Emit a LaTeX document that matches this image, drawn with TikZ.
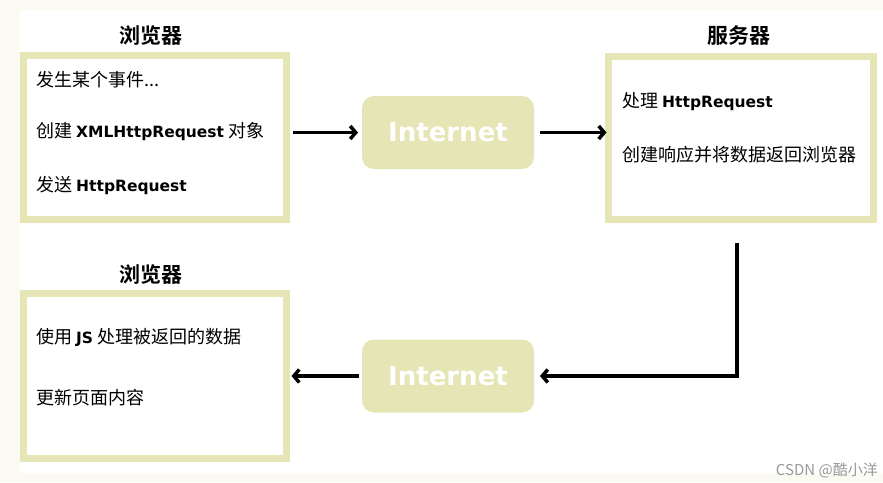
\documentclass[tikz,border=0pt]{standalone}
\usepackage{fontspec}
\usetikzlibrary{arrows.meta}
\setmainfont{DejaVu Sans}
\newfontfamily\cjk{Noto Sans CJK SC}[BoldFont={Noto Sans CJK SC Bold}]
\definecolor{khaki}{RGB}{229,229,181}
\definecolor{cream}{RGB}{251,251,243}
\newcommand{\en}[1]{{\normalfont\bfseries\fontsize{15.5}{18}\selectfont #1}}

\begin{document}
\begin{tikzpicture}[x=1pt,y=-1pt,
    box/.style={draw=khaki,line width=7pt,fill=white,inner sep=0pt,outer sep=0pt},
    inet/.style={fill=khaki,rounded corners=12pt,minimum width=172pt,minimum height=73pt,
      outer sep=0pt,text=white,font=\bfseries\fontsize{26}{30}\selectfont},
    title/.style={font=\cjk\bfseries\fontsize{21}{24}\selectfont},
    txt/.style={anchor=west,inner sep=0pt,font=\cjk\fontsize{18}{21}\selectfont},
    conn/.style={line width=3.5pt,-{Straight Barb[length=5.5pt,width=13pt]}}]
  \useasboundingbox (0,0) rectangle (883,482);
  \fill[cream] (0,0) rectangle (883,482);
  \fill[white] (20,10) rectangle (883,473);

  % browser (top)
  \node[title] (t1) at (151,36) {浏览器};
  \node[box,minimum width=263pt,minimum height=164pt] (b1) at (155,137.5) {};
  \node[txt] (b1a) at (36,80) {发生某个事件...};
  \node[txt] (b1b) at (36,132) {创建 \en{XMLHttpRequest} 对象};
  \node[txt] (b1c) at (36,186) {发送 \en{HttpRequest}};

  % internet
  \node[inet] (i1) at (448,132.5) {Internet};
  \node[inet] (i2) at (448,376) {Internet};

  % server
  \node[title] (t2) at (739,36) {服务器};
  \node[box,minimum width=265pt,minimum height=163pt] (srv) at (741,138) {};
  \node[txt] (sa) at (622,102) {处理 \en{HttpRequest}};
  \node[txt] (sb) at (622,155) {创建响应并将数据返回浏览器};

  % browser (bottom)
  \node[title] (t3) at (151,275) {浏览器};
  \node[box,minimum width=263pt,minimum height=165pt] (b2) at (155,376) {};
  \node[txt] (b2a) at (36,337) {使用 \en{JS} 处理被返回的数据};
  \node[txt] (b2b) at (36,398) {更新页面内容};

  \draw[conn,shorten <=6pt,shorten >=4pt] (b1.east |- i1.west) -- (i1.west);
  \draw[conn,shorten <=6pt,shorten >=2pt] (i1.east) -- (srv.west |- i1.east);
  \draw[conn,shorten <=23pt,shorten >=6pt] ([xshift=-4pt]srv.south) |- (i2.east);
  \draw[conn,shorten <=3pt,shorten >=5pt] (i2.west) -- (b2.east |- i2.west);

  \node[anchor=base east,text=black!40,inner sep=0pt,font=\cjk\fontsize{15}{18}\selectfont] (wm) at (878,475) {CSDN @酷小洋};
\end{tikzpicture}
\end{document}
